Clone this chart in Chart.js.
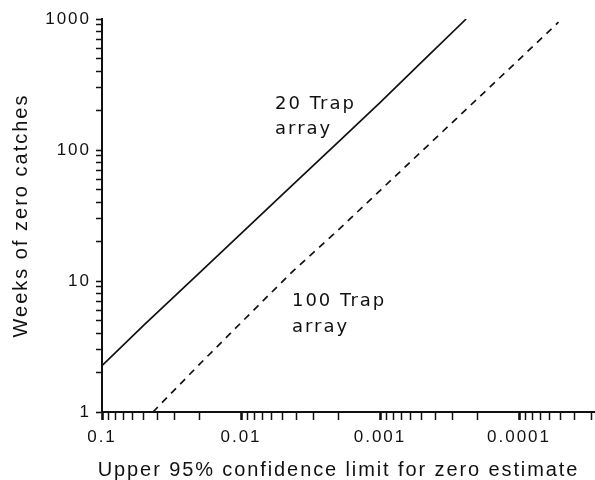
<!DOCTYPE html>
<html>
<head>
<meta charset="utf-8">
<script src="https://cdn.jsdelivr.net/npm/chart.js@4"></script>
<style>
  html, body { margin: 0; padding: 0; background: #fff; }
  #wrap { width: 595px; height: 480px; }
</style>
</head>
<body>
<div id="wrap"><canvas id="chart" width="595" height="480"></canvas></div>
<script>
// upper 95% limit (x) vs weeks of zero catches (y)
const trap20X = [0.1, 0.05, 0.02, 0.01, 0.005, 0.002, 0.001, 0.0005, 0.00024];
const trap20Y = [2.26, 4.6, 11.5, 23, 46, 115, 230, 470, 1000];
const trap100X = [0.043, 0.02, 0.01, 0.0043, 0.002, 0.001, 0.0005, 0.0002, 0.0001, 0.000052];
const trap100Y = [1, 2.3, 4.8, 11.7, 24.5, 49, 98, 245, 490, 945];

const xMajorTicks = [0.1, 0.01, 0.001, 0.0001];
const xTickLabels = ['0.1', '0.01', '0.001', '0.0001'];
const yMajorTicks = [1, 10, 100, 1000];
const yTickLabels = ['1', '10', '100', '1000'];
const minorSteps = [2, 3, 4, 5, 6, 7, 8, 9];

const xMin = 0.0000284, xMax = 0.1;
const yMin = 1, yMax = 1000;

function logTicks(majors, min, max) {
  const out = [];
  majors.forEach(m => {
    out.push({ value: m, major: true });
    minorSteps.forEach(s => {
      const v = +(m * s).toPrecision(3);
      if (v > min && v < max) out.push({ value: v, major: false });
    });
  });
  // minors below the smallest major
  const lowest = Math.min(...majors) / 10;
  minorSteps.forEach(s => {
    const v = +(lowest * s).toPrecision(3);
    if (v > min && v < max) out.push({ value: v, major: false });
  });
  return out.sort((a, b) => a.value - b.value);
}

const axisFont = { family: '"Liberation Sans", Arial, sans-serif', size: 17 };
const titleFont = { family: '"Liberation Sans", Arial, sans-serif', size: 20, lineHeight: 1 };

const spacing = {
  id: 'spacing',
  beforeDraw(chart) {
    chart.ctx.letterSpacing = '2px';
  }
};

const textLabels = {
  id: 'textLabels',
  afterDraw(chart) {
    const { ctx, scales, chartArea } = chart;
    ctx.save();
    ctx.fillStyle = '#111';

    // x axis title, drawn here to keep it where the figure has it
    ctx.letterSpacing = '1.9px';
    ctx.font = '20px "Liberation Sans", Arial, sans-serif';
    ctx.textAlign = 'center';
    ctx.textBaseline = 'middle';
    ctx.fillText('Upper 95% confidence limit for zero estimate',
      (chartArea.left + chartArea.right) / 2 - 10, chart.height - 10);

    ctx.letterSpacing = '2px';
    ctx.font = '18px "DejaVu Sans", Verdana, sans-serif';
    ctx.textBaseline = 'alphabetic';
    ctx.textAlign = 'left';
    let x = scales.x.getPixelForValue(0.00569);
    let y = scales.y.getPixelForValue(207);
    ctx.fillText('20 Trap', x, y);
    ctx.fillText('array', x, y + 25);
    x = scales.x.getPixelForValue(0.0043);
    y = scales.y.getPixelForValue(6.4);
    ctx.fillText('100 Trap', x, y);
    ctx.fillText('array', x, y + 26);
    ctx.restore();
  }
};

const ctx = document.getElementById('chart');
new Chart(ctx, {
  type: 'line',
  data: {
    datasets: [
      {
        label: '20 Trap array',
        data: trap20X.map((x, i) => ({ x, y: trap20Y[i] })),
        borderColor: '#111',
        borderWidth: 1.7,
        pointRadius: 0,
        tension: 0
      },
      {
        label: '100 Trap array',
        data: trap100X.map((x, i) => ({ x, y: trap100Y[i] })),
        borderColor: '#111',
        borderWidth: 1.7,
        borderDash: [7, 6],
        pointRadius: 0,
        tension: 0
      }
    ]
  },
  options: {
    responsive: false,
    animation: false,
    layout: { padding: { top: 19, right: 0, bottom: 0, left: 0 } },
    plugins: {
      legend: { display: false },
      tooltip: { enabled: false }
    },
    scales: {
      x: {
        type: 'logarithmic',
        reverse: true,
        min: xMin,
        max: xMax,
        afterBuildTicks: (scale) => { scale.ticks = logTicks(xMajorTicks, xMin, xMax); },
        afterFit: (scale) => { scale.height = 68; },
        border: { display: true, color: '#111', width: 2 },
        grid: {
          drawOnChartArea: false,
          drawTicks: true,
          tickLength: 8,
          tickColor: '#111',
          tickWidth: (c) => (c.tick && c.tick.major ? 2.6 : 1.5)
        },
        ticks: {
          autoSkip: false,
          maxRotation: 0,
          padding: 7,
          color: '#111',
          font: axisFont,
          callback: (value) => {
            const i = xMajorTicks.indexOf(value);
            return i >= 0 ? xTickLabels[i] : '';
          }
        },
        title: { display: false }
      },
      y: {
        type: 'logarithmic',
        min: yMin,
        max: yMax,
        afterBuildTicks: (scale) => { scale.ticks = logTicks(yMajorTicks, yMin, yMax); },
        afterFit: (scale) => { scale.width = 102; },
        border: { display: true, color: '#111', width: 2 },
        grid: {
          drawOnChartArea: false,
          drawTicks: true,
          tickLength: 6,
          tickColor: '#111',
          tickWidth: (c) => (c.tick && c.tick.major ? 1.6 : 1.5)
        },
        ticks: {
          autoSkip: false,
          padding: 5,
          color: '#111',
          font: axisFont,
          callback: (value) => {
            const i = yMajorTicks.indexOf(value);
            return i >= 0 ? yTickLabels[i] : '';
          }
        },
        title: {
          display: true,
          text: 'Weeks of zero catches',
          color: '#111',
          font: titleFont,
          padding: { top: 11, bottom: 0 }
        }
      }
    }
  },
  plugins: [spacing, textLabels]
});
</script>
</body>
</html>
